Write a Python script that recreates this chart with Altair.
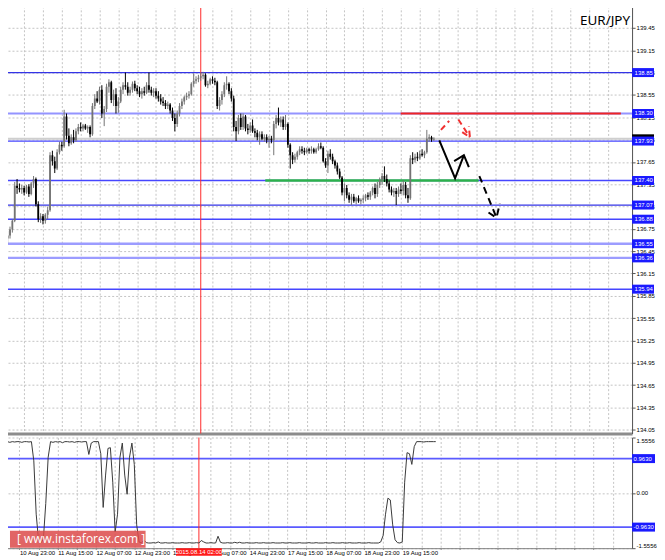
import json
import altair as alt
import pandas as pd

PAIR = "EUR/JPY"

OPEN = [
136.55,136.62,136.66,136.74,136.86,137.33,137.30,137.28,137.30,137.24,
137.32,137.22,137.36,137.42,137.08,136.88,136.92,136.86,136.94,137.00,
137.74,137.66,137.56,137.78,137.88,137.86,138.26,138.00,137.90,137.98,
137.94,138.06,138.12,138.10,138.14,138.10,138.12,138.02,138.40,138.50,
138.46,138.62,138.30,138.36,138.66,138.72,138.48,138.56,138.40,138.46,
138.62,138.68,138.66,138.58,138.62,138.70,138.64,138.60,138.56,138.60,
138.58,138.68,138.62,138.58,138.60,138.54,138.50,138.46,138.44,138.40,
138.42,138.34,138.24,138.16,138.30,138.40,138.46,138.52,138.54,138.56,
138.70,138.74,138.76,138.78,138.80,138.82,138.68,138.70,138.76,138.74,
138.72,138.40,138.48,138.56,138.68,138.70,138.60,138.50,138.12,138.06,
138.24,138.12,138.26,138.10,138.08,138.14,138.06,138.04,137.98,138.02,
137.96,137.98,137.94,137.96,137.94,138.16,138.24,138.18,138.22,138.12,
138.16,137.88,137.74,137.68,137.72,137.78,137.82,137.80,137.78,137.82,
137.80,137.82,137.78,137.82,137.86,137.84,137.66,137.60,137.76,137.72,
137.66,137.60,137.52,137.44,137.24,137.30,137.20,137.14,137.18,137.12,
137.16,137.12,137.14,137.16,137.20,137.18,137.24,137.30,137.22,137.34,
137.40,137.46,137.42,137.36,137.28,137.24,137.26,137.22,137.28,137.26,
137.34,137.20,137.16,137.70,137.68,137.72,137.70,137.76,137.74,137.78,
137.96,137.98,137.95]

HIGH = [
136.70,136.72,136.78,136.88,137.38,137.42,137.36,137.34,137.33,137.34,
137.35,137.38,137.46,137.44,137.12,136.96,136.95,136.96,137.05,137.78,
137.80,137.72,137.82,137.92,137.92,138.35,138.30,138.10,138.02,138.08,
138.10,138.16,138.18,138.16,138.16,138.14,138.14,138.44,138.56,138.60,
138.66,138.68,138.40,138.70,138.76,138.74,138.62,138.64,138.52,138.66,
138.72,138.85,138.72,138.66,138.73,138.74,138.68,138.66,138.64,138.66,
138.72,138.85,138.66,138.64,138.64,138.60,138.56,138.52,138.48,138.46,
138.44,138.38,138.30,138.34,138.44,138.50,138.54,138.58,138.60,138.72,
138.84,138.80,138.82,138.85,138.86,138.84,138.74,138.78,138.80,138.78,
138.74,138.52,138.60,138.72,138.80,138.72,138.64,138.54,138.20,138.28,
138.30,138.30,138.28,138.16,138.18,138.22,138.10,138.08,138.06,138.06,
138.02,138.02,138.00,138.00,138.20,138.28,138.38,138.26,138.26,138.28,
138.18,137.90,137.78,137.76,137.80,137.86,137.86,137.84,137.84,137.84,
137.86,137.84,137.84,137.90,137.91,137.86,137.70,137.80,137.82,137.76,
137.68,137.64,137.56,137.46,137.36,137.34,137.24,137.22,137.22,137.18,
137.20,137.16,137.20,137.22,137.24,137.26,137.32,137.36,137.38,137.44,
137.50,137.59,137.48,137.40,137.32,137.30,137.30,137.32,137.36,137.40,
137.38,137.30,137.74,137.78,137.76,137.78,137.80,137.82,137.80,138.08,
138.02,138.00,137.98]

LOW = [
136.41,136.55,136.62,136.70,136.84,137.22,137.24,137.22,137.20,137.22,
137.18,137.20,137.30,137.05,136.84,136.83,136.81,136.82,136.88,136.98,
137.60,137.50,137.54,137.75,137.80,137.84,137.95,137.86,137.88,137.90,
137.92,138.02,138.06,138.06,138.08,138.04,137.98,138.00,138.36,138.44,
138.42,138.24,138.13,138.32,138.58,138.44,138.40,138.30,138.31,138.44,
138.56,138.62,138.54,138.54,138.58,138.60,138.56,138.52,138.50,138.54,
138.56,138.58,138.54,138.52,138.50,138.46,138.42,138.40,138.36,138.36,
138.30,138.20,138.06,138.12,138.26,138.36,138.42,138.48,138.50,138.54,
138.66,138.70,138.72,138.74,138.76,138.66,138.64,138.68,138.70,138.68,
138.36,138.34,138.42,138.52,138.62,138.56,138.46,138.06,137.93,138.02,
138.08,138.08,138.06,138.02,138.04,138.04,137.98,137.94,137.88,137.94,
137.92,137.90,137.84,137.90,137.74,138.10,138.14,138.12,138.08,138.08,
137.84,137.56,137.62,137.64,137.68,137.74,137.76,137.74,137.76,137.76,
137.76,137.76,137.76,137.80,137.82,137.64,137.57,137.50,137.68,137.62,
137.56,137.48,137.42,137.20,137.12,137.16,137.10,137.07,137.10,137.08,
137.10,137.08,137.10,137.12,137.14,137.14,137.20,137.16,137.18,137.30,
137.34,137.38,137.32,137.24,137.20,137.18,137.07,137.18,137.22,137.20,
137.16,137.10,137.14,137.62,137.64,137.66,137.68,137.72,137.70,137.76,
137.92,137.92,137.93]

CLOSE = [
136.62,136.66,136.74,136.86,137.33,137.30,137.28,137.30,137.24,137.32,
137.22,137.36,137.42,137.08,136.88,136.92,136.86,136.94,137.00,137.74,
137.66,137.56,137.78,137.88,137.86,138.26,138.00,137.90,137.98,137.94,
138.06,138.12,138.10,138.14,138.10,138.12,138.02,138.40,138.50,138.46,
138.62,138.30,138.36,138.66,138.72,138.48,138.56,138.40,138.46,138.62,
138.68,138.66,138.58,138.62,138.70,138.64,138.60,138.56,138.60,138.58,
138.68,138.62,138.58,138.60,138.54,138.50,138.46,138.44,138.40,138.42,
138.34,138.24,138.16,138.30,138.40,138.46,138.52,138.54,138.56,138.70,
138.74,138.76,138.78,138.80,138.82,138.68,138.70,138.76,138.74,138.72,
138.40,138.48,138.56,138.68,138.70,138.60,138.50,138.12,138.06,138.24,
138.12,138.26,138.10,138.08,138.14,138.06,138.04,137.98,138.02,137.96,
137.98,137.94,137.96,137.94,138.16,138.24,138.18,138.22,138.12,138.16,
137.88,137.74,137.68,137.72,137.78,137.82,137.80,137.78,137.82,137.80,
137.82,137.78,137.82,137.86,137.84,137.66,137.60,137.76,137.72,137.66,
137.60,137.52,137.44,137.24,137.30,137.20,137.14,137.18,137.12,137.16,
137.12,137.14,137.16,137.20,137.18,137.24,137.30,137.22,137.34,137.40,
137.46,137.42,137.36,137.28,137.24,137.26,137.22,137.28,137.26,137.34,
137.20,137.16,137.70,137.68,137.72,137.70,137.76,137.74,137.78,137.96,
137.98,137.95,137.96]

IND = [
1.44,1.43,1.44,1.44,1.42,1.44,1.43,1.44,1.44,1.42,
1.44,1.44,1.43,1.44,0.90,-0.60,-1.35,-1.41,-1.30,-0.30,
1.00,1.44,1.42,1.44,1.43,1.44,1.41,1.44,1.44,1.43,
1.44,1.42,1.44,1.44,1.43,1.44,1.44,1.08,1.40,1.44,
1.44,1.44,1.10,-0.41,0.50,1.25,1.27,0.30,-1.10,-0.60,
1.00,1.40,0.50,-0.04,1.00,1.40,0.80,-0.90,-1.38,-1.41,
-1.33,-1.40,-1.41,-1.41,-1.40,-1.41,-1.38,-1.41,-1.41,-1.40,
-1.41,-1.41,-1.40,-1.41,-1.41,-1.41,-1.40,-1.41,-1.41,-1.40,
-1.41,-1.41,-1.40,-1.41,-1.34,-1.38,-1.41,-1.41,-1.40,-1.41,
-1.41,-1.22,-1.39,-1.41,-1.41,-1.40,-1.41,-1.41,-1.39,-1.41,
-1.39,-1.41,-1.41,-1.40,-1.41,-1.41,-1.41,-1.40,-1.41,-1.41,
-1.40,-1.41,-1.41,-1.41,-1.40,-1.41,-1.41,-1.41,-1.40,-1.41,
-1.41,-1.40,-1.41,-1.41,-1.41,-1.40,-1.41,-1.41,-1.41,-1.40,
-1.41,-1.41,-1.40,-1.41,-1.41,-1.41,-1.40,-1.41,-1.41,-1.40,
-1.41,-1.41,-1.41,-1.40,-1.41,-1.41,-1.40,-1.41,-1.41,-1.41,
-1.40,-1.41,-1.41,-1.41,-1.40,-1.41,-1.41,-1.41,-1.41,-1.38,
-1.20,-0.60,-0.15,-0.20,-0.90,-1.32,-1.40,-1.41,-1.38,0.30,
1.13,1.10,0.80,1.30,1.44,1.44,1.44,1.43,1.44,1.44,
1.44,1.44,1.44]

PRICE_TICKS = [134.05, 134.35, 134.65, 134.95, 135.25, 135.55, 135.85, 136.15, 136.45, 136.75,
               137.05, 137.35, 137.65, 137.95, 138.25, 138.55, 138.85, 139.15, 139.45, 139.75]

LEVELS = [138.85, 138.30, 137.93, 137.40, 137.07, 136.88, 136.55, 136.36, 135.94]
LEVEL_TXT = ["138.85", "138.30", "137.93", "137.40", "137.07", "136.88", "136.55", "136.36", "135.94"]
LEVEL_COLOR = ["#3434e6", "#9494ff", "#4646ff", "#4646ff", "#3434e6", "#4646ff", "#9c9cff", "#9c9cff", "#4646ff"]
LEVEL_WIDTH = [1.2, 2.2, 1.3, 1.3, 1.2, 1.5, 2.4, 2.4, 1.5]

BID = [137.96]
BID_TXT = ["137.96"]

IND_LEVELS = [0.9630, -0.9630]
IND_LEVEL_TXT = ["0.9630", "-0.9630"]
IND_TICKS = [-1.5556, 0.0, 1.5556]

RESIST = [138.30]; RESIST_FROM = [167.9]; RESIST_TO = [261.4]
SUPPORT = [137.40]; SUPPORT_FROM = [110.4]; SUPPORT_TO = [201.0]

MARK_BAR = [83]
MARK_TXT = ["2015.08.14 02:00"]

TIME_TXT = ["10 Aug 23:00", "11 Aug 15:00", "12 Aug 07:00", "12 Aug 23:00", "13 Aug 15:00",
            "14 Aug 07:00", "14 Aug 23:00", "17 Aug 15:00", "18 Aug 07:00", "18 Aug 23:00",
            "19 Aug 15:00"]

SOLID_ID = ["a", "a", "a", "b", "b", "b"]
SOLID_X = [184.3, 191.0, 194.75, 190.6, 194.75, 196.85]
SOLID_Y = [137.94, 137.43, 137.74, 137.66, 137.74, 137.58]

RED_ID = ["a", "a", "b", "b", "c", "c", "c"]
RED_X = [185.0, 188.5, 192.4, 197.3, 194.05, 197.3, 196.85]
RED_Y = [138.08, 138.20, 138.22, 137.98, 138.05, 137.98, 138.13]

DASH_ID = ["a", "a", "b", "b", "b"]
DASH_X = [201.3, 208.6, 205.2, 208.6, 210.0]
DASH_Y = [137.46, 136.90, 136.97, 136.90, 137.09]

WATERMARK = ["[ www.instaforex.com ]"]

# ---------------------------------------------------------------------------
n = min(len(OPEN), len(HIGH), len(LOW), len(CLOSE))
candles = pd.DataFrame({"i": list(range(n)), "o": OPEN[:n], "h": HIGH[:n],
                        "l": LOW[:n], "c": CLOSE[:n]})
ind = pd.DataFrame({"i": list(range(len(IND))), "v": IND})
lev = pd.DataFrame({"p": LEVELS, "t": LEVEL_TXT, "col": LEVEL_COLOR, "w": LEVEL_WIDTH})
bid = pd.DataFrame({"p": BID, "t": BID_TXT})
ilev = pd.DataFrame({"p": IND_LEVELS, "t": IND_LEVEL_TXT})
res = pd.DataFrame({"p": RESIST, "x1": RESIST_FROM, "x2": RESIST_TO})
sup = pd.DataFrame({"p": SUPPORT, "x1": SUPPORT_FROM, "x2": SUPPORT_TO})
mark = pd.DataFrame({"i": MARK_BAR, "t": MARK_TXT})
solid = pd.DataFrame({"id": SOLID_ID, "x": SOLID_X, "y": SOLID_Y, "k": list(range(len(SOLID_X)))})
red = pd.DataFrame({"id": RED_ID, "x": RED_X, "y": RED_Y, "k": list(range(len(RED_X)))})
dash = pd.DataFrame({"id": DASH_ID, "x": DASH_X, "y": DASH_Y, "k": list(range(len(DASH_X)))})
pair = pd.DataFrame({"t": [PAIR]})
wm = pd.DataFrame({"t": WATERMARK})

# The page only has 649px of width next to its 8px margin: the plot keeps
# 2.4px per bar and ends at 633px so the right-hand price scale still fits.
W = 633
BAR_PX = 2.4
H_TOP = 433
H_BOT = 111
XS = alt.Scale(domain=[0.3, 0.3 + W / BAR_PX], nice=False, zero=False)
YS = alt.Scale(domain=[134.0, 139.80], nice=False, zero=False)
YSI = alt.Scale(domain=[-1.5556, 1.5556], nice=False, zero=False)

FONT = "Liberation Sans"
GRID = dict(grid=True, gridColor="#c4c4c4", gridDash=[2, 2], gridWidth=1)
xvals = list(range(0, 264, 8))

XAX_TOP = alt.Axis(values=xvals, labels=False, ticks=False, domain=True,
                   domainColor="#8c8c8c", domainWidth=3, title=None, **GRID)
YAX_TOP = alt.Axis(orient="right", values=PRICE_TICKS, format=".2f", tickSize=3,
                   tickColor="#555555", labelFontSize=6, labelFont=FONT, labelColor="#000000",
                   labelPadding=1, domainColor="#505050", domainWidth=1, labelOverlap=False,
                   title=None, **GRID)
label_expr = ("datum.value % 16 == 8 ? " + json.dumps(TIME_TXT) +
              "[(datum.value - 8) / 16] : ''")
XAX_BOT = alt.Axis(values=xvals, labelExpr=label_expr, labelAlign="left", labelFontSize=6,
                   labelFont=FONT, labelColor="#000000", labelPadding=0, tickSize=1,
                   tickColor="#555555", domainColor="#808080", domainWidth=1,
                   labelOverlap=False, labelFlush=False, title=None, **GRID)
YAX_BOT = alt.Axis(orient="right", values=IND_TICKS,
                   labelExpr="datum.value == 0 ? '0.00' : (datum.value < 0 ? '-' : '') + format(abs(datum.value), '.4f')",
                   labelFlush=True, tickSize=3, tickColor="#555555", labelFontSize=6,
                   labelFont=FONT, labelColor="#000000", labelPadding=1,
                   domainColor="#505050", domainWidth=1, labelOverlap=False, title=None, **GRID)

cond = alt.condition("datum.c >= datum.o", alt.value("#737373"), alt.value("#000000"))

# ---------------- main panel ----------------
levels = alt.Chart(lev).mark_rule(clip=True).encode(
    y=alt.Y("p:Q", scale=YS, axis=YAX_TOP),
    color=alt.Color("col:N", scale=None),
    strokeWidth=alt.StrokeWidth("w:Q", scale=None))
bidline = alt.Chart(bid).mark_rule(clip=True, color="#cfcfcf", strokeWidth=2).encode(
    y=alt.Y("p:Q", scale=YS, axis=YAX_TOP))
vline = alt.Chart(mark).mark_rule(color="#ff2a2a", strokeWidth=1).encode(
    x=alt.X("i:Q", scale=XS, axis=XAX_TOP))
green = alt.Chart(sup).mark_rule(color="#2db24c", strokeWidth=2.4).encode(
    x=alt.X("x1:Q", scale=XS, axis=XAX_TOP), x2="x2:Q",
    y=alt.Y("p:Q", scale=YS, axis=YAX_TOP))
redl = alt.Chart(res).mark_rule(color="#ee2424", strokeWidth=2.2).encode(
    x=alt.X("x1:Q", scale=XS, axis=XAX_TOP), x2="x2:Q",
    y=alt.Y("p:Q", scale=YS, axis=YAX_TOP))
wick = alt.Chart(candles).mark_rule(clip=True, strokeWidth=1).encode(
    x=alt.X("i:Q", scale=XS, axis=XAX_TOP),
    y=alt.Y("l:Q", scale=YS, axis=YAX_TOP), y2="h:Q", color=cond)
body = alt.Chart(candles).mark_bar(clip=True, width=1.8).encode(
    x=alt.X("i:Q", scale=XS, axis=XAX_TOP),
    y=alt.Y("o:Q", scale=YS, axis=YAX_TOP), y2="c:Q", color=cond)
arrow_solid = alt.Chart(solid).mark_line(color="#000000", strokeWidth=2).encode(
    x=alt.X("x:Q", scale=XS, axis=XAX_TOP), y=alt.Y("y:Q", scale=YS, axis=YAX_TOP),
    detail="id:N", order="k:Q")
arrow_red = alt.Chart(red).mark_line(color="#f03030", strokeWidth=2, strokeDash=[6, 4]).encode(
    x=alt.X("x:Q", scale=XS, axis=XAX_TOP), y=alt.Y("y:Q", scale=YS, axis=YAX_TOP),
    detail="id:N", order="k:Q")
arrow_dash = alt.Chart(dash).mark_line(color="#000000", strokeWidth=2, strokeDash=[7, 5]).encode(
    x=alt.X("x:Q", scale=XS, axis=XAX_TOP), y=alt.Y("y:Q", scale=YS, axis=YAX_TOP),
    detail="id:N", order="k:Q")
bidbox = alt.Chart(bid).mark_rect(color="#000000", yOffset=-4.5, y2Offset=4.5).encode(
    x=alt.value(W), x2=alt.value(W + 22),
    y=alt.Y("p:Q", scale=YS, axis=YAX_TOP), y2="p:Q")
boxes = alt.Chart(lev).mark_rect(color="#1a1aff", yOffset=-4.5, y2Offset=4.5).encode(
    x=alt.value(W), x2=alt.value(W + 22),
    y=alt.Y("p:Q", scale=YS, axis=YAX_TOP), y2="p:Q")
boxtxt = alt.Chart(lev).mark_text(align="left", baseline="middle", fontSize=6, font=FONT,
                                  color="#ffffff").encode(
    x=alt.value(W + 2.5), y=alt.Y("p:Q", scale=YS, axis=YAX_TOP), text="t:N")
pairtxt = alt.Chart(pair).mark_text(align="right", baseline="middle", fontSize=13.5,
                                    font="Noto Sans", color="#000000").encode(
    x=alt.value(631), y=alt.value(19), text="t:N")

top = alt.layer(levels, bidline, green, redl, vline, wick, body, arrow_solid, arrow_red,
                arrow_dash, bidbox, boxes, boxtxt, pairtxt).properties(width=W, height=H_TOP)

# ---------------- indicator panel ----------------
ilevels = alt.Chart(ilev).mark_rule(color="#5a5aff", strokeWidth=1.8).encode(
    y=alt.Y("p:Q", scale=YSI, axis=YAX_BOT))
vline2 = alt.Chart(mark).mark_rule(color="#ff2a2a", strokeWidth=1).encode(
    x=alt.X("i:Q", scale=XS, axis=XAX_BOT))
iline = alt.Chart(ind).mark_line(color="#3a3a3a", strokeWidth=1, clip=True).encode(
    x=alt.X("i:Q", scale=XS, axis=XAX_BOT), y=alt.Y("v:Q", scale=YSI, axis=YAX_BOT))
wmbox = alt.Chart(wm).mark_rect(color="#dc4a4a", opacity=0.85).encode(
    x=alt.value(9), x2=alt.value(145), y=alt.value(93.5), y2=alt.value(110.5))
wmtxt = alt.Chart(wm).mark_text(align="left", baseline="middle", fontSize=12,
                                font="Open Sans", color="#ffffff").encode(
    x=alt.value(16), y=alt.value(102), text="t:N")
mbox = alt.Chart(mark).mark_rect(color="#ff1a1a", xOffset=-23, x2Offset=23).encode(
    x=alt.X("i:Q", scale=XS, axis=XAX_BOT), x2="i:Q", y=alt.value(111), y2=alt.value(118.5))
mtxt = alt.Chart(mark).mark_text(align="center", baseline="middle", fontSize=6, font=FONT,
                                 color="#ffffff").encode(
    x=alt.X("i:Q", scale=XS, axis=XAX_BOT), y=alt.value(114.8), text="t:N")
iboxes = alt.Chart(ilev).mark_rect(color="#1a1aff", yOffset=-4.5, y2Offset=4.5).encode(
    x=alt.value(W), x2=alt.value(W + 23),
    y=alt.Y("p:Q", scale=YSI, axis=YAX_BOT), y2="p:Q")
iboxtxt = alt.Chart(ilev).mark_text(align="left", baseline="middle", fontSize=6, font=FONT,
                                    color="#ffffff").encode(
    x=alt.value(W + 1.5), y=alt.Y("p:Q", scale=YSI, axis=YAX_BOT), text="t:N")

bottom = alt.layer(ilevels, vline2, iline, wmbox, wmtxt, mbox, mtxt, iboxes,
                   iboxtxt).properties(width=W, height=H_BOT)

chart = alt.vconcat(top, bottom, spacing=2).properties(
    padding={"left": -8, "top": -8, "right": 0, "bottom": 0},
    background="white",
).configure_view(stroke=None)

chart.save("out.html", embed_options={"renderer": "svg", "actions": False})
